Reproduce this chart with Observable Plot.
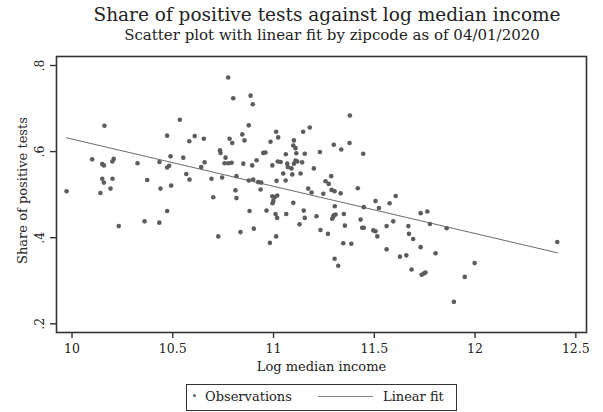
<!DOCTYPE html>
<html>
<head>
<meta charset="utf-8">
<script src="https://cdn.jsdelivr.net/npm/d3@7"></script>
<script src="https://cdn.jsdelivr.net/npm/@observablehq/plot@0.6"></script>
<style>
  html, body { margin: 0; padding: 0; background: #fff; }
  #wrap { position: relative; width: 603px; height: 412px; overflow: hidden; font-family: "DejaVu Serif", serif; color: #222; }
  .ttl { position: absolute; white-space: nowrap; transform: translateX(-50%); }
  #title { left: 327px; top: 6px; font-size: 18.5px; line-height: 18.5px; }
  #subtitle { left: 332px; top: 28px; font-size: 15px; line-height: 15px; }
  #chart { position: absolute; left: 0; top: 0; }
  #legend { position: absolute; left: 186px; top: 384px; width: 271px; height: 27px; box-sizing: border-box; border: 1.5px solid #333; font-size: 13px; }
  #legend .dot { position: absolute; left: 6px; top: 9px; width: 3px; height: 3px; border-radius: 50%; background: #666; }
  #legend .t1 { position: absolute; left: 18px; top: 5px; line-height: 13px; }
  #legend .ln { position: absolute; left: 131px; top: 11px; width: 55px; height: 0; border-top: 1px solid #888; }
  #legend .t2 { position: absolute; left: 196px; top: 5px; line-height: 13px; }
</style>
</head>
<body>
<div id="wrap">
  <div id="chart"></div>
  <div id="title" class="ttl">Share of positive tests against log median income</div>
  <div id="subtitle" class="ttl">Scatter plot with linear fit by zipcode as of 04/01/2020</div>
  <div id="legend"><span class="dot"></span><span class="t1">Observations</span><span class="ln"></span><span class="t2">Linear fit</span></div>
</div>
<script>
// Log median income (x) and share of positive tests (y), one entry per zipcode
const logIncome = [
  10.161,10.535,10.472,10.582,10.100,10.150,10.158,10.200,10.207,10.325,
  10.434,10.489,10.552,10.472,10.482,10.567,10.150,10.158,10.201,10.373,
  9.973,10.141,10.191,10.439,10.492,10.583,10.232,10.360,10.433,10.472,
  10.775,10.800,10.886,10.897,10.877,10.609,10.654,10.782,10.795,10.845,
  10.856,10.985,11.013,11.023,11.147,11.180,11.101,11.098,11.109,11.113,
  11.061,11.155,11.230,10.734,10.737,10.949,10.960,10.762,10.757,10.775,
  10.792,10.850,10.894,10.916,10.658,10.641,10.994,11.021,11.035,11.068,
  11.071,11.109,11.118,11.101,11.142,11.089,11.048,11.093,11.134,11.200,
  10.692,10.745,10.816,10.877,10.899,10.924,10.939,11.015,11.060,10.811,
  11.172,11.189,10.936,10.701,10.816,10.994,11.005,11.018,10.999,10.995,
  11.098,10.881,10.965,11.010,11.018,11.063,11.150,11.155,11.213,11.129,
  11.233,10.726,10.836,10.902,11.013,10.982,11.379,11.299,11.336,11.377,
  11.445,11.286,11.258,11.274,11.288,11.303,11.418,11.247,11.333,11.606,
  11.506,11.523,11.576,11.448,11.304,11.299,11.308,11.291,11.296,11.349,
  11.354,11.432,11.440,11.448,11.495,11.506,11.515,11.561,11.594,11.669,
  11.672,11.693,11.730,11.763,11.776,11.859,11.270,11.346,11.386,11.561,
  11.627,11.659,11.730,11.804,11.303,11.321,11.685,11.735,11.746,11.754,
  11.998,11.949,11.895,12.408
];
const sharePositive = [
  0.660,0.674,0.637,0.624,0.582,0.571,0.568,0.577,0.583,0.573,
  0.576,0.589,0.586,0.563,0.567,0.548,0.537,0.528,0.537,0.534,
  0.508,0.504,0.514,0.514,0.521,0.535,0.427,0.438,0.435,0.462,
  0.772,0.724,0.730,0.710,0.661,0.636,0.630,0.630,0.620,0.640,
  0.626,0.623,0.646,0.633,0.646,0.656,0.626,0.614,0.608,0.596,
  0.594,0.595,0.599,0.603,0.597,0.597,0.598,0.586,0.573,0.573,
  0.574,0.572,0.568,0.580,0.575,0.564,0.568,0.577,0.576,0.572,
  0.564,0.579,0.577,0.572,0.575,0.561,0.549,0.547,0.549,0.561,
  0.537,0.540,0.543,0.533,0.535,0.529,0.528,0.532,0.533,0.510,
  0.514,0.505,0.512,0.494,0.492,0.496,0.494,0.498,0.486,0.480,
  0.481,0.462,0.463,0.455,0.446,0.455,0.463,0.446,0.450,0.431,
  0.418,0.403,0.413,0.421,0.403,0.388,0.684,0.616,0.605,0.620,
  0.595,0.543,0.531,0.525,0.511,0.508,0.515,0.502,0.503,0.497,
  0.485,0.469,0.480,0.471,0.473,0.452,0.454,0.444,0.448,0.455,
  0.428,0.442,0.423,0.423,0.417,0.415,0.403,0.427,0.438,0.427,
  0.409,0.397,0.457,0.461,0.432,0.422,0.409,0.387,0.386,0.373,
  0.356,0.359,0.378,0.364,0.351,0.335,0.326,0.314,0.317,0.319,
  0.341,0.309,0.251,0.390
];
// Linear fit endpoints
const fitX = [9.973, 12.408];
const fitY = [0.632, 0.365];
// Axis ticks
const xTicks = [10, 10.5, 11, 11.5, 12, 12.5];
const xTickLabels = ["10", "10.5", "11", "11.5", "12", "12.5"];
const yTicks = [0.2, 0.4, 0.6, 0.8];
const yTickLabels = [".2", ".4", ".6", ".8"];

const points = logIncome.map((x, i) => ({x, y: sharePositive[i]}));
const fit = fitX.map((x, i) => ({x, y: fitY[i]}));

const chart = Plot.plot({
  width: 603,
  height: 382,
  marginTop: 56,
  marginBottom: 50,
  marginLeft: 56,
  marginRight: 17,
  style: {fontFamily: "DejaVu Serif", fontSize: "12.5px", color: "#222", background: "transparent"},
  x: {domain: [9.923, 12.553]},
  y: {domain: [0.1798, 0.8209]},
  marks: [
    Plot.line(fit, {x: "x", y: "y", stroke: "#6a6a6a", strokeWidth: 1}),
    Plot.dot(points, {x: "x", y: "y", r: 2.3, fill: "#5c5c5c", stroke: "none"}),
    Plot.frame({stroke: "#333", strokeWidth: 1.6}),
    Plot.axisX({ticks: xTicks, tickFormat: (d, i) => xTickLabels[xTicks.indexOf(d)], tickSize: 6, tickPadding: 6, stroke: "#333", strokeWidth: 1.4, fill: "#222", label: null, fontSize: 12.5}),
    Plot.axisY({ticks: yTicks, tickFormat: (d) => yTickLabels[yTicks.indexOf(d)], tickSize: 6, tickPadding: 7, tickRotate: -90, textAnchor: "middle", lineAnchor: "bottom", stroke: "#333", strokeWidth: 1.4, fill: "#222", label: null, fontSize: 12.5}),
    Plot.text(["Log median income"], {frameAnchor: "bottom", dy: 38, fontSize: 13, fill: "#222"}),
    Plot.text(["Share of positive tests"], {frameAnchor: "left", textAnchor: "middle", rotate: -90, dx: -34, dy: -4, fontSize: 13, fill: "#222"})
  ]
});
document.getElementById("chart").appendChild(chart);
</script>
</body>
</html>
